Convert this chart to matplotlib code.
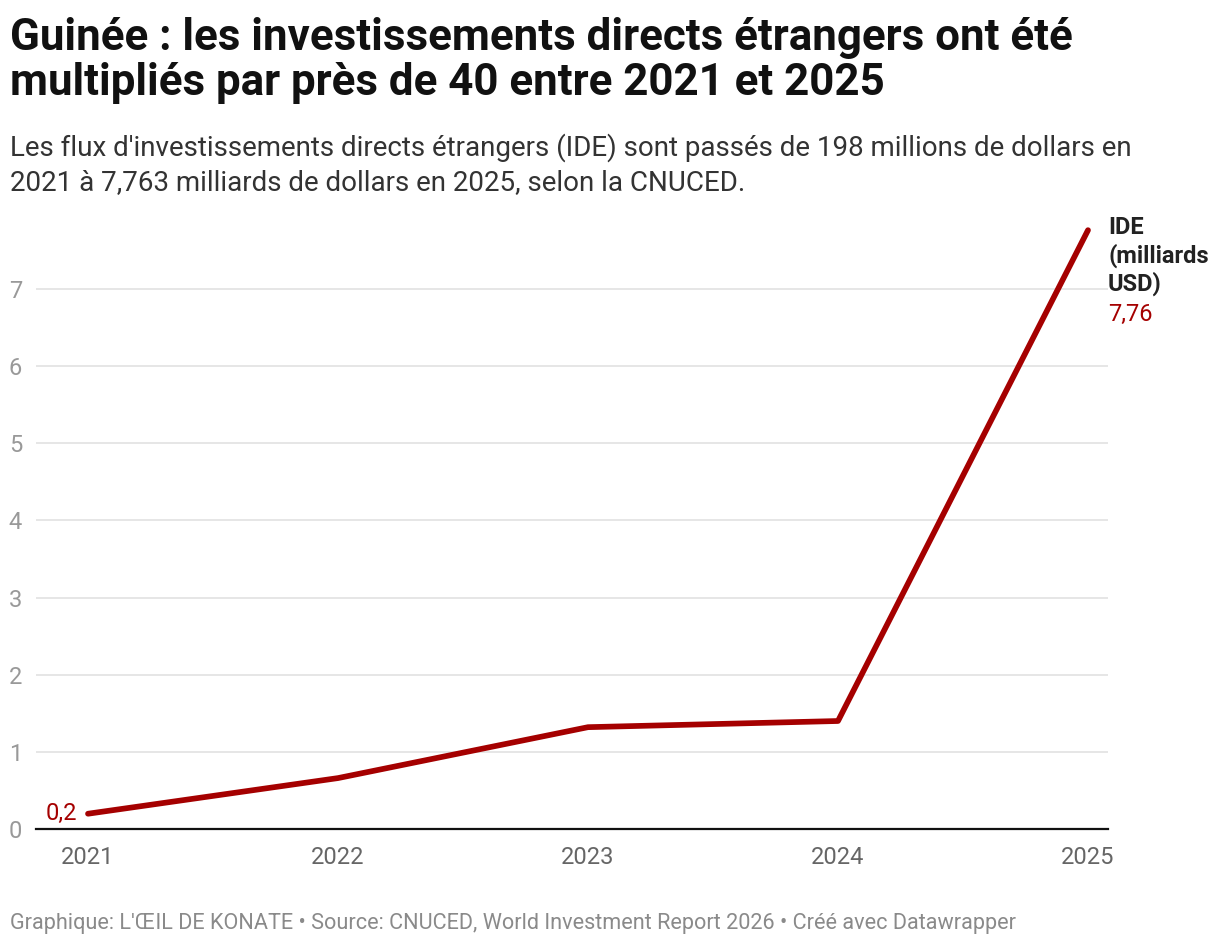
import matplotlib
matplotlib.use("Agg")
import matplotlib.pyplot as plt

years = [2021, 2022, 2023, 2024, 2025]
ide_values = [0.198, 0.66, 1.32, 1.40, 7.763]
y_ticks = [0, 1, 2, 3, 4, 5, 6, 7]

title = "Guinée : les investissements directs étrangers ont été\nmultipliés par près de 40 entre 2021 et 2025"
subtitle = ("Les flux d'investissements directs étrangers (IDE) sont passés de 198 millions de dollars en\n"
            "2021 à 7,763 milliards de dollars en 2025, selon la CNUCED.")
footer = "Graphique: L'ŒIL DE KONATE • Source: CNUCED, World Investment Report 2026 • Créé avec Datawrapper"
series_label = "IDE\n(milliards\nUSD)"

RED = "#a50000"
plt.rcParams["font.family"] = ["Roboto", "DejaVu Sans"]

W, H = 1220, 946
fig = plt.figure(figsize=(W / 100, H / 100), dpi=100)
ax = fig.add_axes([36 / W, 1 - 829 / H, (1108 - 36) / W, 609.4 / H])

ax.plot(years, ide_values, color=RED, lw=4.1, solid_capstyle="round", solid_joinstyle="round", zorder=3)
ax.set_xlim(2021 - 52 / 250, 2025 + 20 / 250)
ax.set_ylim(0, 7.9)

ax.set_yticks(y_ticks)
ax.set_yticklabels([str(t) for t in y_ticks])
ax.set_xticks(years)
ax.set_xticklabels([str(y) for y in years])
ax.tick_params(axis="y", length=0, pad=10, labelsize=17, labelcolor="#999999")
ax.tick_params(axis="x", length=0, pad=12, labelsize=17, labelcolor="#666666")
ax.grid(axis="y", color="#e2e2e2", lw=1.2)
ax.set_axisbelow(True)
for side in ["top", "right", "left"]:
    ax.spines[side].set_visible(False)
ax.spines["bottom"].set_color("#111111")
ax.spines["bottom"].set_linewidth(1.6)

ax.annotate(f"{ide_values[0]:.1f}".replace(".", ","), (years[0], ide_values[0]),
            xytext=(-8, 0), textcoords="offset points", ha="right", va="center",
            color=RED, fontsize=17)
ax.annotate(series_label, (1108 / W, 1 - 216 / H), xycoords="figure fraction",
            ha="left", va="top", fontsize=17, fontweight="bold", color="#222222",
            linespacing=1.22)
ax.annotate(f"{ide_values[-1]:.2f}".replace(".", ","), (1108 / W, 1 - 303 / H),
            xycoords="figure fraction", ha="left", va="top", color=RED, fontsize=17)

fig.text(10 / W, 1 - 17 / H, title, ha="left", va="top", fontsize=31.6,
         fontweight="bold", color="#111111", linespacing=1.1)
fig.text(10 / W, 1 - 133 / H, subtitle, ha="left", va="top", fontsize=20,
         color="#333333", linespacing=1.33)
fig.text(10 / W, 1 - 923 / H, footer, ha="left", va="center", fontsize=15.6,
         color="#8a8a8a")

fig.savefig("out.png", dpi=100, facecolor="white")
